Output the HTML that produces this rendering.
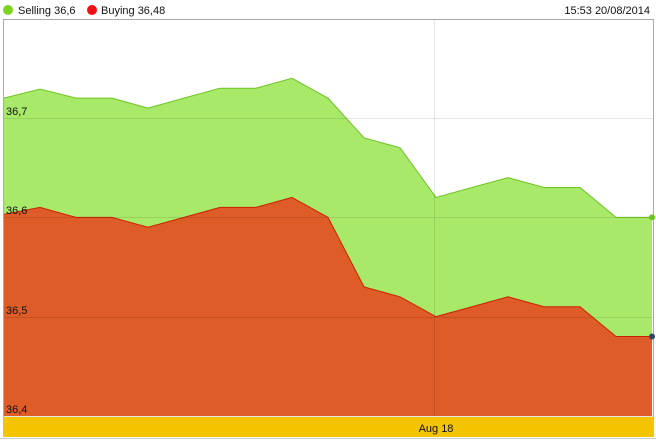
<!DOCTYPE html>
<html><head><meta charset="utf-8"><style>
html,body{margin:0;padding:0;background:#fff;width:656px;height:442px;overflow:hidden}
svg text{font-family:"Liberation Sans",Arial,sans-serif;font-size:11px;fill:#111}
</style></head><body>
<svg id="chart" width="656" height="442">
  <g>
    <circle cx="8" cy="10" r="5" fill="#7ed321"/>
    <text x="18" y="14">Selling 36,6</text>
    <circle cx="92" cy="10" r="5" fill="#ee1111"/>
    <text x="101" y="14">Buying 36,48</text>
    <text x="650" y="14" text-anchor="end">15:53 20/08/2014</text>
  </g>
  <rect x="3.5" y="19.5" width="650" height="398" fill="#fff" stroke="#aaa"/>
  <g id="series"></g>
  <g id="grid"></g>
  <g id="dots"></g>
  <g id="labels"></g>
  <rect x="3" y="417" width="651" height="20" fill="#f5c400"/>
  <line x1="0" y1="438.5" x2="656" y2="438.5" stroke="#ccc"/>
  <text x="436" y="432" text-anchor="middle">Aug 18</text>
</svg>
<script>
const selling = [36.72,36.729,36.72,36.72,36.71,36.72,36.73,36.73,36.74,36.72,36.68,36.67,36.62,36.63,36.64,36.63,36.63,36.60,36.60];
const buying = [36.603,36.61,36.60,36.60,36.59,36.60,36.61,36.61,36.62,36.60,36.53,36.52,36.50,36.51,36.52,36.51,36.51,36.48,36.48];
const yTicks = [36.4,36.5,36.6,36.7];
const yTickLabels = ["36,4","36,5","36,6","36,7"];
const NS="http://www.w3.org/2000/svg";
const x0=4,x1=652,yTop=20,yBot=416;
const yMin=36.4,yMax=36.7;
function xs(i){return x0+(x1-x0)*i/(selling.length-1);}
function ys(v){return 416-(v-yMin)/(yMax-yMin)*298;}
function mk(tag,attrs,parent){const e=document.createElementNS(NS,tag);for(const k in attrs)e.setAttribute(k,attrs[k]);parent.appendChild(e);return e;}
const grid=document.getElementById('grid'),series=document.getElementById('series'),labels=document.getElementById('labels'),dots=document.getElementById('dots');
yTicks.forEach((t,i)=>{
  const l=mk('line',{x1:4,x2:653,y1:Math.round(ys(t))+0.5,y2:Math.round(ys(t))+0.5,stroke:'#000','stroke-opacity':0.1},grid);
  
  
});
const vl=mk('line',{x1:434.5,x2:434.5,y1:20,y2:416,stroke:'#000','stroke-opacity':0.1},grid);


function areaPath(arr){let d='M'+xs(0)+','+yBot;arr.forEach((v,i)=>{d+=' L'+xs(i)+','+ys(v);});d+=' L'+xs(arr.length-1)+','+yBot+' Z';return d;}
function linePath(arr){return arr.map((v,i)=>(i?'L':'M')+xs(i)+','+ys(v)).join(' ');}
const sa=mk('path',{d:areaPath(selling),fill:'#a8e96a'},series);


const sl=mk('path',{d:linePath(selling),fill:'none',stroke:'#6cc41e','stroke-width':1},series);


const ba=mk('path',{d:areaPath(buying),fill:'#dd5c28'},series);


const bl=mk('path',{d:linePath(buying),fill:'none',stroke:'#cc2200','stroke-width':1},series);


const sd=mk('circle',{cx:xs(selling.length-1),cy:ys(selling[selling.length-1]),r:3,fill:'#6cc41e'},dots);


const bd=mk('circle',{cx:xs(buying.length-1),cy:ys(buying[buying.length-1]),r:3,fill:'#334466'},dots);


yTicks.forEach((t,i)=>{
  const tx=mk('text',{x:6,y:Math.round(ys(t))-3},labels);
  tx.textContent=yTickLabels[i];
  
  
});
</script>
</body></html>
